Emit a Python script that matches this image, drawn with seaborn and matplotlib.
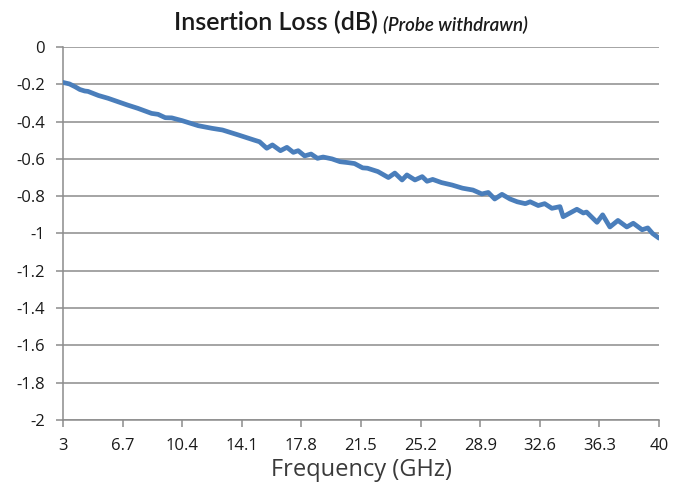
import matplotlib
matplotlib.use("Agg")
import matplotlib.pyplot as plt
import seaborn as sns
import pandas as pd

# values
freq_ghz = [3.0, 3.4, 3.75, 4.05, 4.35, 4.55, 5.2, 5.8, 6.4, 7.0, 7.65, 8.5, 8.9,
            9.35, 9.75, 10.4, 11.4, 12.25, 12.9, 13.9, 14.9, 15.2, 15.65, 16.0,
            16.5, 16.9, 17.3, 17.6, 18.0, 18.4, 18.8, 19.15, 19.7, 20.2, 20.7,
            21.1, 21.6, 21.9, 22.55, 23.2, 23.6, 24.05, 24.35, 24.85, 25.3, 25.6,
            25.95, 26.5, 27.15, 27.8, 28.45, 29.0, 29.4, 29.8, 30.25, 30.75, 31.2,
            31.7, 32.0, 32.5, 32.9, 33.35, 33.85, 34.05, 34.9, 35.3, 35.5, 36.15,
            36.5, 36.95, 37.45, 38.0, 38.4, 38.95, 39.3, 39.6, 40.0]
loss_db = [-0.190, -0.198, -0.213, -0.228, -0.236, -0.238, -0.260, -0.275, -0.293,
           -0.311, -0.329, -0.356, -0.361, -0.379, -0.380, -0.395, -0.422, -0.436,
           -0.445, -0.472, -0.500, -0.508, -0.543, -0.525, -0.556, -0.538, -0.565,
           -0.556, -0.584, -0.574, -0.597, -0.590, -0.600, -0.615, -0.620, -0.625,
           -0.648, -0.650, -0.668, -0.700, -0.676, -0.713, -0.686, -0.713, -0.695,
           -0.720, -0.710, -0.727, -0.740, -0.757, -0.767, -0.788, -0.780, -0.815,
           -0.790, -0.815, -0.830, -0.840, -0.830, -0.850, -0.840, -0.865, -0.856,
           -0.910, -0.870, -0.890, -0.885, -0.940, -0.900, -0.965, -0.930, -0.965,
           -0.945, -0.980, -0.970, -1.000, -1.025]
x_ticks = [3, 6.7, 10.4, 14.1, 17.8, 21.5, 25.2, 28.9, 32.6, 36.3, 40]
x_tick_labels = ["3", "6.7", "10.4", "14.1", "17.8", "21.5", "25.2", "28.9", "32.6", "36.3", "40"]
y_ticks = [0, -0.2, -0.4, -0.6, -0.8, -1, -1.2, -1.4, -1.6, -1.8, -2]
y_tick_labels = ["0", "-0.2", "-0.4", "-0.6", "-0.8", "-1", "-1.2", "-1.4", "-1.6", "-1.8", "-2"]

df = pd.DataFrame({"Frequency": freq_ghz, "Loss": loss_db})

sns.set_theme(style="white")
plt.rcParams["font.family"] = ["Open Sans", "DejaVu Sans"]

fig = plt.figure(figsize=(6.83, 4.86), dpi=100)
ax = fig.add_axes([0.0922, 0.1358, 0.8727, 0.7675])

grid_col = "#8c8c8c"
for yv in y_ticks:
    ax.axhline(yv, color=grid_col, lw=1.1, zorder=1)

sns.lineplot(data=df, x="Frequency", y="Loss", ax=ax, color="#4a7ebb",
             lw=3.4, zorder=3, solid_joinstyle="round", solid_capstyle="round")

ax.set_xlim(3, 40)
ax.set_ylim(-2, 0)
ax.set_xticks(x_ticks)
ax.set_xticklabels(x_tick_labels, fontsize=12, color="#1a1a1a")
ax.set_yticks(y_ticks)
ax.set_yticklabels(y_tick_labels, fontsize=12, color="#1a1a1a")
ax.tick_params(axis="both", which="major", length=5, width=1.1, color=grid_col,
               direction="out", left=True, bottom=True)
ax.tick_params(axis="x", pad=8)
ax.tick_params(axis="y", pad=8)

for side in ["top", "right"]:
    ax.spines[side].set_visible(False)
for side in ["left", "bottom"]:
    ax.spines[side].set_color(grid_col)
    ax.spines[side].set_linewidth(1.1)

ax.set_xlabel("Frequency (GHz)", fontsize=17, color="#3a3a3a", labelpad=3)
ax.set_ylabel("")

fig.text(0.553, 0.953, "Insertion Loss (dB)", ha="right", va="center",
         fontsize=18, fontweight="semibold", family=["Lato", "DejaVu Sans"],
         color="#1a1a1a")
fig.text(0.561, 0.950, "(Probe withdrawn)", ha="left", va="center",
         fontsize=13.5, style="italic", fontweight="semibold",
         family=["Lato", "DejaVu Sans"], color="#1a1a1a")

fig.savefig("out.png", dpi=100)
